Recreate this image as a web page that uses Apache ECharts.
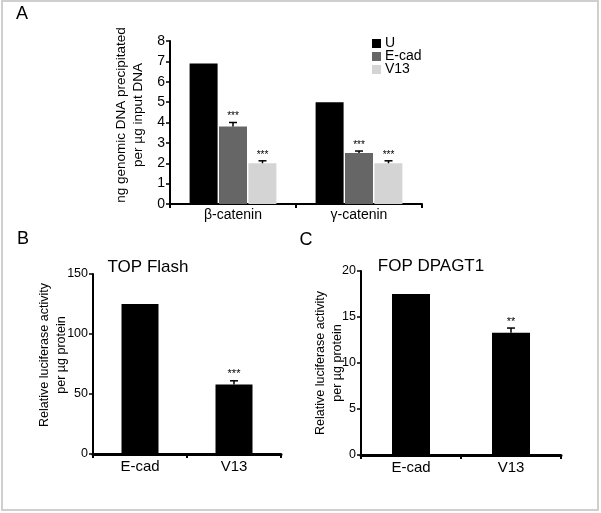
<!DOCTYPE html>
<html>
<head>
<meta charset="utf-8">
<script src="https://cdn.jsdelivr.net/npm/echarts@6/dist/echarts.min.js"></script>
<style>
html,body{margin:0;padding:0;background:#fff;}
#c{width:601px;height:513px;}
</style>
</head>
<body>
<div id="c"></div>
<script>
// ---- Data ----
const catsA = ['β-catenin', 'γ-catenin'];
const namesA = ['U', 'E-cad', 'V13'];
const valsU = [6.9, 5.0];
const valsEcad = [3.8, 2.5];
const errEcad = [0.2, 0.1];
const sigEcad = ['***', '***'];
const valsV13 = [2.0, 2.0];
const errV13 = [0.12, 0.12];
const sigV13 = ['***', '***'];
const ticksA = [0, 1, 2, 3, 4, 5, 6, 7, 8];

const catsB = ['E-cad', 'V13'];
const valsB = [125, 58];
const errB = [0, 3];
const sigB = ['', '***'];
const ticksB = [0, 50, 100, 150];

const catsC = ['E-cad', 'V13'];
const valsC = [17.5, 13.3];
const errC = [0, 0.5];
const sigC = ['', '**'];
const ticksC = [0, 5, 10, 15, 20];

const titleB = 'TOP Flash';
const titleC = 'FOP DPAGT1';
const yNameA = 'ng genomic DNA precipitated\nper µg input DNA';
const yNameBC = 'Relative luciferase activity\nper µg protein';

// ---- Chart ----
const FONT = 'Liberation Sans, Arial, sans-serif';
const chart = echarts.init(document.getElementById('c'), null, {renderer: 'canvas'});

function errSeries(gridIdx, vals, errs, sigs, offset, starSize) {
  return {
    type: 'custom',
    xAxisIndex: gridIdx, yAxisIndex: gridIdx,
    z: 5,
    data: vals.map((v, i) => [i, v, errs[i]]),
    renderItem: function (params, api) {
      const i = api.value(0), v = api.value(1), e = api.value(2);
      const sig = sigs[i];
      const base = api.coord([i, v]);
      const top = api.coord([i, v + e]);
      const x = base[0] + offset;
      const children = [];
      if (e > 0) {
        children.push({type: 'line', shape: {x1: x, y1: base[1], x2: x, y2: top[1]}, style: {stroke: '#000', lineWidth: 1.5}});
        children.push({type: 'line', shape: {x1: x - 4, y1: top[1], x2: x + 4, y2: top[1]}, style: {stroke: '#000', lineWidth: 1.5}});
      }
      if (sig) {
        children.push({type: 'text', style: {text: sig, x: x, y: top[1] - 1, align: 'center', verticalAlign: 'bottom', font: starSize + 'px ' + FONT, fill: '#000'}});
      }
      return {type: 'group', children: children};
    }
  };
}

const axisLineStyle = {show: true, lineStyle: {color: '#000', width: 2}};
const yLabel = (size) => ({color: '#000', fontSize: size, fontFamily: FONT, margin: 5});

const bw = 28, gapA = 1.5;

function rotText(text, x, y, size) {
  return {type: 'text', x: x, y: y, rotation: Math.PI / 2,
    style: {text: text, align: 'center', verticalAlign: 'middle', font: size + 'px ' + FONT, fill: '#000', lineHeight: 17}};
}

const option = {
  animation: false,
  backgroundColor: '#fff',
  textStyle: {fontFamily: FONT},
  graphic: [
    {type: 'rect', shape: {x: 2, y: 1, width: 596, height: 509}, style: {fill: 'none', stroke: '#cfcfcf', lineWidth: 2}, silent: true},
    {type: 'text', style: {text: 'A', x: 22, y: 14, align: 'center', verticalAlign: 'middle', font: '18px ' + FONT, fill: '#000'}},
    {type: 'text', style: {text: 'B', x: 23, y: 239, align: 'center', verticalAlign: 'middle', font: '18px ' + FONT, fill: '#000'}},
    {type: 'text', style: {text: 'C', x: 306, y: 240, align: 'center', verticalAlign: 'middle', font: '18px ' + FONT, fill: '#000'}},
    rotText(yNameA, 130, 115, 13.5),
    rotText(yNameBC, 53, 355, 12.5),
    rotText(yNameBC, 329, 363, 12.5)
  ],
  title: [
    {text: titleB, left: 143, top: 254, textAlign: 'center', textStyle: {fontSize: 17, fontWeight: 'normal', color: '#000', fontFamily: FONT}},
    {text: titleC, left: 426, top: 253, textAlign: 'center', textStyle: {fontSize: 17, fontWeight: 'normal', color: '#000', fontFamily: FONT}}
  ],
  legend: {
    orient: 'vertical', left: 372, top: 36, itemWidth: 9, itemHeight: 9, itemGap: -2,
    icon: 'rect', data: namesA, padding: 0,
    textStyle: {fontSize: 14, color: '#000', fontFamily: FONT, lineHeight: 15, padding: [0, 0, 0, -1]}
  },
  grid: [
    {left: 170, top: 41, width: 252, height: 163},
    {left: 93, top: 274, width: 188, height: 180},
    {left: 361, top: 271, width: 200, height: 184}
  ],
  xAxis: [
    {type: 'category', gridIndex: 0, data: catsA, axisLine: axisLineStyle,
     axisTick: {show: true, length: 4, lineStyle: {color: '#000', width: 2}},
     axisLabel: {color: '#000', fontSize: 14, fontFamily: FONT, margin: 4}},
    {type: 'category', gridIndex: 1, data: catsB, axisLine: {show: true, lineStyle: {color: '#000', width: 3}},
     axisTick: {show: true, length: 4, lineStyle: {color: '#000', width: 2}},
     axisLabel: {color: '#000', fontSize: 15, fontFamily: FONT, margin: 5}},
    {type: 'category', gridIndex: 2, data: catsC, axisLine: {show: true, lineStyle: {color: '#000', width: 3}},
     axisTick: {show: true, length: 4, lineStyle: {color: '#000', width: 2}},
     axisLabel: {color: '#000', fontSize: 15, fontFamily: FONT, margin: 5}}
  ],
  yAxis: [
    {type: 'value', gridIndex: 0, min: ticksA[0], max: ticksA[ticksA.length - 1], interval: 1,
     axisLine: axisLineStyle, axisTick: {show: true, length: 4, lineStyle: {color: '#000', width: 1.5}},
     splitLine: {show: false}, axisLabel: yLabel(14)},
    {type: 'value', gridIndex: 1, min: ticksB[0], max: ticksB[ticksB.length - 1], interval: 50,
     axisLine: axisLineStyle, axisTick: {show: true, length: 4, lineStyle: {color: '#000', width: 1.5}},
     splitLine: {show: false}, axisLabel: yLabel(12.5)},
    {type: 'value', gridIndex: 2, min: ticksC[0], max: ticksC[ticksC.length - 1], interval: 5,
     axisLine: axisLineStyle, axisTick: {show: true, length: 4, lineStyle: {color: '#000', width: 1.5}},
     splitLine: {show: false}, axisLabel: yLabel(12.5)}
  ],
  series: [
    {name: 'U', type: 'bar', xAxisIndex: 0, yAxisIndex: 0, data: valsU, barWidth: bw, barGap: '5%', itemStyle: {color: '#000'}},
    {name: 'E-cad', type: 'bar', xAxisIndex: 0, yAxisIndex: 0, data: valsEcad, barWidth: bw, barGap: '5%', itemStyle: {color: '#666'}},
    {name: 'V13', type: 'bar', xAxisIndex: 0, yAxisIndex: 0, data: valsV13, barWidth: bw, barGap: '5%', itemStyle: {color: '#d4d4d4'}},
    errSeries(0, valsEcad, errEcad, sigEcad, 0, 10),
    errSeries(0, valsV13, errV13, sigV13, bw + gapA, 10),
    {type: 'bar', xAxisIndex: 1, yAxisIndex: 1, data: valsB, barWidth: 37, itemStyle: {color: '#000'}},
    errSeries(1, valsB, errB, sigB, 0, 11),
    {type: 'bar', xAxisIndex: 2, yAxisIndex: 2, data: valsC, barWidth: 38, itemStyle: {color: '#000'}},
    errSeries(2, valsC, errC, sigC, 0, 11)
  ]
};
chart.setOption(option);
</script>
</body>
</html>
